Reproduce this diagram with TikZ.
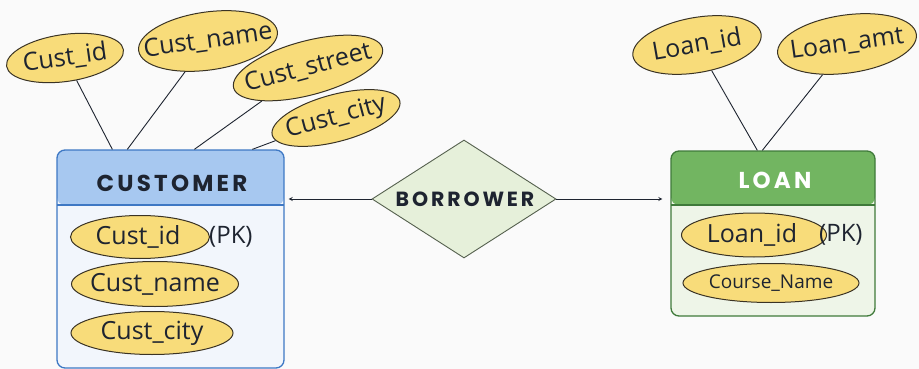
\documentclass[tikz,border=0pt]{standalone}
\usepackage{fontspec}
\setmainfont{Open Sans}
\newfontfamily\headfont{Poppins}[LetterSpace=14]
\usetikzlibrary{shapes.geometric, arrows, positioning}

\definecolor{paper}{HTML}{FAFAFA}
\definecolor{attrfill}{HTML}{F8DC7A}
\definecolor{attrline}{HTML}{3A3324}
\definecolor{custhead}{HTML}{A7C8F0}
\definecolor{custline}{HTML}{3E78C4}
\definecolor{custbody}{HTML}{F2F6FC}
\definecolor{loanhead}{HTML}{72B561}
\definecolor{loanline}{HTML}{3F7A3A}
\definecolor{loanbody}{HTML}{EEF5E8}
\definecolor{relfill}{HTML}{E6F0DA}
\definecolor{relline}{HTML}{55604E}
\definecolor{ink}{HTML}{1E2430}

% text of fixed-size ellipses: no width of its own
\newcommand{\attrtext}[1]{\makebox[0pt]{#1}}

\tikzstyle{attr} = [ellipse, draw=attrline, fill=attrfill, line width=1pt, inner sep=0pt, text=ink, font=\fontsize{25}{27}\selectfont]
\tikzstyle{entity} = [rectangle, rounded corners=8pt, line width=1.3pt]
\tikzstyle{title} = [font=\headfont\bfseries\fontsize{23}{25}\selectfont]
\tikzstyle{relation} = [diamond, draw=relline, fill=relfill, line width=0.9pt, inner sep=0pt, aspect=1.56, minimum width=184pt, minimum height=118pt, text=ink, font=\headfont\bfseries\fontsize{20.5}{22}\selectfont]
\tikzstyle{pk} = [inner sep=0pt, text=ink, font=\fontsize{24}{26}\selectfont]
\tikzstyle{link} = [line width=0.9pt, draw=ink]
\tikzstyle{arrow} = [->, >=stealth, line width=0.8pt, draw=ink]
\tikzset{header/.style 2 args={path picture={
    \fill[#1] (path picture bounding box.north west) rectangle ([yshift=-#2]path picture bounding box.north east);
    \draw[line width=1.3pt] ([yshift=-#2]path picture bounding box.north west) -- ([yshift=-#2]path picture bounding box.north east);}}}

\begin{document}
\begin{tikzpicture}[x=1pt, y=-1pt]
    \fill[paper] (0,0) rectangle (919,369);
    \useasboundingbox (0,0) rectangle (919,369);

    % Entities
    \node (cust) [entity, draw=custline, fill=custbody, minimum width=227pt, minimum height=218pt, header={custhead}{55pt}] at (170.5,259) {};
    \node (custtitle) [title, text=ink] at (172,183) {CUSTOMER};
    \node (loan) [entity, draw=loanline, fill=loanbody, minimum width=204pt, minimum height=165pt, header={loanhead}{54pt}] at (773,233.5) {};
    \node (loantitle) [title, text=white] at (775,180) {LOAN};

    % Relationship
    \node (borrower) [relation] at (464,199) {\hspace{2pt}BORROWER};

    % Attributes above the entities
    \node (tcid) [attr, rotate=8, minimum width=118pt, minimum height=47pt] at (65,58) {\attrtext{Cust\_id}};
    \node (tcname) [attr, rotate=8, minimum width=140pt, minimum height=58pt] at (208,41) {\attrtext{Cust\_name}};
    \node (tcstreet) [attr, rotate=15, minimum width=154pt, minimum height=54pt] at (308,68) {\attrtext{Cust\_street}};
    \node (tccity) [attr, rotate=15, minimum width=132pt, minimum height=47pt] at (336,118) {\attrtext{Cust\_city}};
    \node (tlid) [attr, rotate=10, minimum width=130pt, minimum height=55pt] at (697,45) {\attrtext{Loan\_id}};
    \node (tlamt) [attr, rotate=8, minimum width=140pt, minimum height=58pt] at (847,44) {\attrtext{Loan\_amt}};

    % Attributes inside the entities
    \node (icid) [attr, minimum width=139pt, minimum height=43pt] at (140,237) {\attrtext{Cust\_id\hspace{4pt}}};
    \node (icidpk) [pk, right=-1pt of icid] {(PK)};
    \node (icname) [attr, minimum width=167pt, minimum height=45pt] at (155,284) {\attrtext{Cust\_name}};
    \node (iccity) [attr, minimum width=162pt, minimum height=43pt] at (152,333) {\attrtext{Cust\_city}};
    \node (ilid) [attr, minimum width=145pt, minimum height=44pt] at (754,235) {\attrtext{Loan\_id\hspace{4pt}}};
    \node (ilidpk) [pk, right=-8pt of ilid] {(PK)};
    \node (icourse) [attr, font=\fontsize{19}{21}\selectfont, minimum width=176pt, minimum height=39pt] at (771,283) {\attrtext{Course\_Name}};

    % Links
    \draw [link] (tcid) -- ([xshift=56pt]cust.north west);
    \draw [link] (tcname) -- ([xshift=71pt]cust.north west);
    \draw [link] (tcstreet) -- ([xshift=138pt]cust.north west);
    \draw [link] (tccity) -- ([xshift=196pt]cust.north west);
    \draw [link] (tlid) -- ([xshift=87pt]loan.north west);
    \draw [link] (tlamt) -- ([xshift=92pt]loan.north west);

    % Arrows
    \draw [arrow, shorten >=4pt] (borrower.west) -- (borrower.west -| cust.east);
    \draw [arrow, shorten >=8pt] (borrower.east) -- (borrower.east -| loan.west);
\end{tikzpicture}
\end{document}
